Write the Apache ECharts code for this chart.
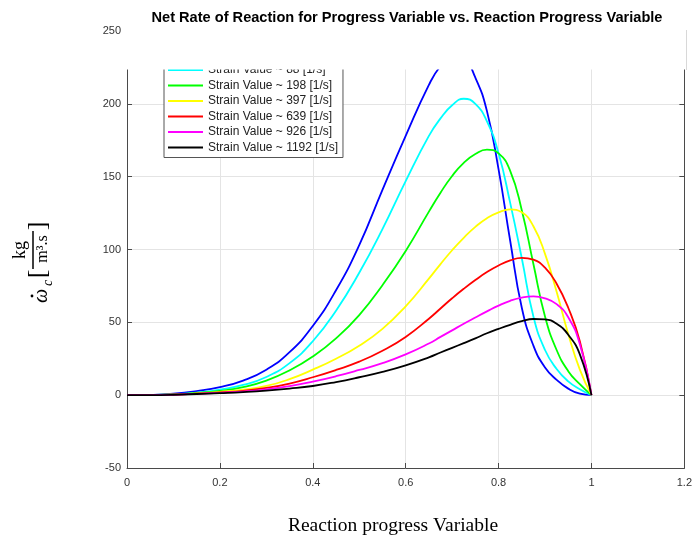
<!DOCTYPE html>
<html>
<head>
<meta charset="utf-8">
<script src="https://cdn.jsdelivr.net/npm/echarts@6/dist/echarts.min.js"></script>
<style>
  html, body { margin: 0; padding: 0; background: #ffffff; }
  #chart { width: 695px; height: 537px; }
</style>
</head>
<body>
<div id="chart"></div>
<script>
// Reaction progress variable c (shared x grid for every curve)
const progress = [0, 0.05, 0.1, 0.15, 0.2, 0.25, 0.3, 0.35, 0.4, 0.45, 0.5, 0.55, 0.6, 0.65,
  0.675, 0.7, 0.725, 0.75, 0.775, 0.8, 0.825, 0.85, 0.875, 0.9, 0.925, 0.95, 0.975, 1.0];

// Net reaction rate of the progress variable, kg/(m^3 s), one array per strain rate
const rateLowest = [0, 0.2, 1, 2.8, 5.5, 10, 17.5, 29.5, 47.5, 72, 103, 141, 178, 213,
  226, 233, 231, 218, 195, 155, 106, 60, 34, 19, 10.5, 4.5, 1, 0];
const rate88 = [0, 0.1, 0.6, 1.8, 3.8, 7, 12.5, 22, 37, 58, 84, 114, 147, 178,
  190, 199, 203.5, 200, 188, 166, 132, 94, 54, 31, 18, 9.5, 4, 0];
const rate198 = [0, 0.1, 0.5, 1.5, 3, 5.5, 10, 17, 26.5, 39, 55, 75.5, 99, 126,
  139, 150.5, 159.5, 165.5, 168.5, 166, 154, 127, 90, 54, 31, 16.5, 7.5, 0];
const rate397 = [0, 0.05, 0.4, 1.2, 2.3, 3.8, 6.3, 11, 17.5, 25, 34, 45.5, 61, 80,
  90, 99.5, 108, 115.5, 121.5, 125.5, 127.5, 125.5, 116, 97, 71, 42, 17.5, 0];
const rate639 = [0, 0.05, 0.35, 1, 1.9, 3, 5, 8, 12.3, 17.3, 23, 30.5, 40, 52.5,
  59.5, 66.5, 73, 79, 84.5, 89, 92.5, 94.3, 93, 87.5, 76.5, 60, 37, 0];
const rate926 = [0, 0.05, 0.3, 0.9, 1.6, 2.5, 4, 6.2, 9.3, 13, 17.3, 22, 28, 35.5,
  40, 44.5, 49, 53.3, 57.5, 61.5, 64.8, 67, 67.8, 66.5, 62.5, 53.5, 35, 0];
const rate1192 = [0, 0.05, 0.3, 0.8, 1.4, 2.1, 3.1, 4.5, 6.3, 9, 12.3, 16, 20.5, 26,
  29.3, 32.5, 35.7, 39, 42.5, 45.5, 48.3, 50.8, 52.3, 52, 49, 41.5, 28, 0];

const seriesNames = ['Strain Value (lowest)', 'Strain Value ~ 88 [1/s]', 'Strain Value ~ 198 [1/s]',
  'Strain Value ~ 397 [1/s]', 'Strain Value ~ 639 [1/s]', 'Strain Value ~ 926 [1/s]',
  'Strain Value ~ 1192 [1/s]'];
const seriesColors = ['#0000ff', '#00ffff', '#00ff00', '#ffff00', '#ff0000', '#ff00ff', '#000000'];
const seriesValues = [rateLowest, rate88, rate198, rate397, rate639, rate926, rate1192];

// Axis tick labels
const xTickLabels = ['0', '0.2', '0.4', '0.6', '0.8', '1', '1.2'];
const yTickLabels = ['-50', '0', '50', '100', '150', '200', '250'];

const chart = echarts.init(document.getElementById('chart'), null, { renderer: 'canvas' });

const axisGray = '#4a4a4a';
const gridGray = '#e4e4e4';
const sansFont = '"Liberation Sans", Arial, Helvetica, sans-serif';
const serifFont = '"Liberation Serif", "DejaVu Serif", serif';

function verticalText(str, cx, cy, font) {
  return {
    type: 'text', x: cx, y: cy, rotation: Math.PI / 2, z: 110,
    style: { text: str, x: 0, y: 0, font: font, fill: '#000', textAlign: 'center', textVerticalAlign: 'middle' }
  };
}

const series = seriesValues.map((vals, i) => ({
  name: seriesNames[i],
  type: 'line',
  data: progress.map((c, k) => [c, vals[k]]),
  showSymbol: false,
  symbol: 'none',
  smooth: 0.5,
  clip: true,
  lineStyle: { color: seriesColors[i], width: 1.8 },
  itemStyle: { color: seriesColors[i] },
  z: 2 + i
}));

const option = {
  animation: false,
  backgroundColor: '#ffffff',
  grid: { left: 127, right: 9, top: 31, bottom: 69, containLabel: false },
  xAxis: {
    type: 'value', min: 0, max: 1.2, interval: 0.2,
    axisLine: { show: true, onZero: false, lineStyle: { color: axisGray, width: 1 } },
    axisTick: { show: true, inside: true, length: 5, lineStyle: { color: axisGray } },
    axisLabel: {
      color: '#333', fontSize: 11, fontFamily: sansFont, margin: 9,
      formatter: v => xTickLabels[Math.round(v / 0.2)]
    },
    splitLine: { show: true, lineStyle: { color: gridGray, width: 1 } }
  },
  yAxis: [{
    type: 'value', min: -50, max: 250, interval: 50,
    axisLine: { show: true, onZero: false, lineStyle: { color: axisGray, width: 1 } },
    axisTick: { show: true, inside: true, length: 5, lineStyle: { color: axisGray } },
    axisLabel: {
      color: '#333', fontSize: 11, fontFamily: sansFont, margin: 6,
      formatter: v => yTickLabels[Math.round((v + 50) / 50)]
    },
    splitLine: { show: true, lineStyle: { color: gridGray, width: 1 } }
  }, {
    type: 'value', min: -50, max: 250, interval: 50, position: 'right',
    axisLine: { show: true, onZero: false, lineStyle: { color: axisGray, width: 1 } },
    axisTick: { show: true, inside: true, length: 5, lineStyle: { color: axisGray } },
    axisLabel: { show: false },
    splitLine: { show: false }
  }],
  legend: {
    orient: 'vertical',
    left: 164, top: 60,
    data: seriesNames.slice(1),
    icon: 'rect',
    itemWidth: 35, itemHeight: 2, itemGap: 3.5,
    padding: [4, 5, 4, 4],
    backgroundColor: '#ffffff',
    borderColor: '#555555', borderWidth: 1,
    textStyle: { color: '#222', fontSize: 12, lineHeight: 12, fontFamily: sansFont },
    z: 10
  },
  series: series,
  graphic: [
    // blank band across the top of the frame
    { type: 'rect', z: 100, silent: true, shape: { x: 124, y: 27, width: 562, height: 42.5 }, style: { fill: '#ffffff' } },
    { type: 'line', z: 101, silent: true, shape: { x1: 686.5, y1: 30, x2: 686.5, y2: 70 }, style: { stroke: '#d8d8d8', lineWidth: 1 } },
    // title
    { type: 'text', z: 110, x: 407, y: 18,
      style: { text: 'Net Rate of Reaction for Progress Variable vs. Reaction Progress Variable',
        font: 'bold 14.6px ' + sansFont, fill: '#000', textAlign: 'center', textVerticalAlign: 'middle' } },
    // x-axis title
    { type: 'text', z: 110, x: 393, y: 526,
      style: { text: 'Reaction progress Variable', font: '19.5px ' + serifFont, fill: '#000',
        textAlign: 'center', textVerticalAlign: 'middle' } },
    // y-axis title: ω̇c [kg / m³.s]
    verticalText('ω', 42, 296, 'italic 20px ' + serifFont),
    { type: 'circle', z: 110, shape: { cx: 32, cy: 296, r: 1.4 }, style: { fill: '#000' } },
    verticalText('c', 48, 283, 'italic 14px ' + serifFont),
    verticalText('[', 38, 274, '26px ' + serifFont),
    verticalText('kg', 20, 250, '18px ' + serifFont),
    { type: 'line', z: 110, shape: { x1: 33, y1: 231, x2: 33, y2: 269 }, style: { stroke: '#000', lineWidth: 1.5 } },
    verticalText('m³.s', 43, 249, '16px ' + serifFont),
    verticalText(']', 38, 226, '26px ' + serifFont)
  ]
};

chart.setOption(option);
</script>
</body>
</html>
